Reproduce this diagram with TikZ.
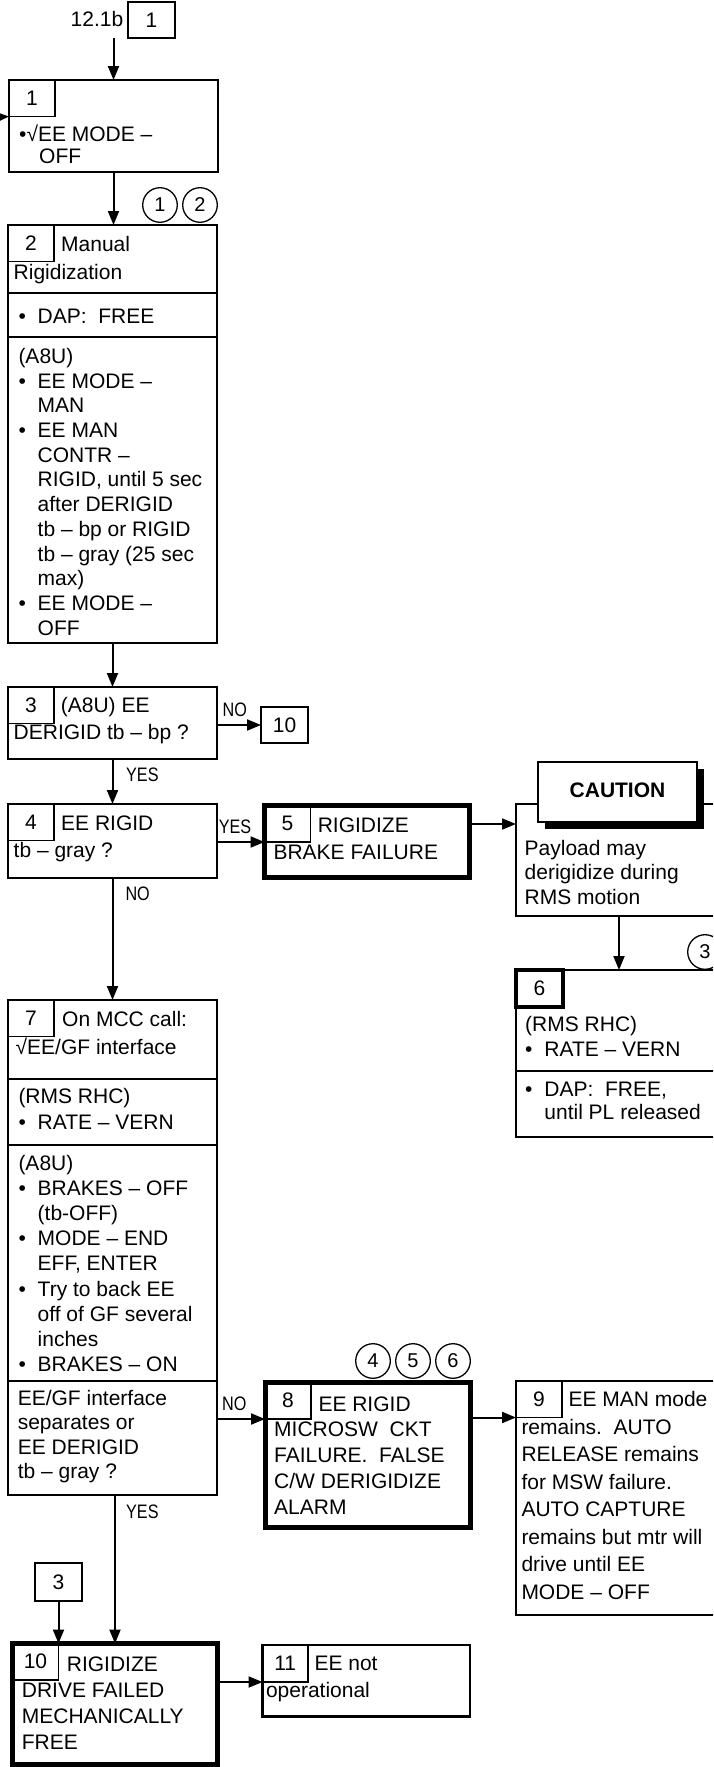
\documentclass[tikz,border=0pt]{standalone}
\usepackage{fontspec}
\setmainfont{Liberation Sans}
\newfontfamily\lblfont[FakeStretch=0.83]{Liberation Sans}
\usetikzlibrary{positioning, arrows.meta, shadows}
\newcommand{\bitem}{\makebox[19.2pt][l]{•}}
\newcommand{\bindent}{\hspace*{19.2pt}}
\newcommand{\fst}{\rule{0pt}{17pt}}
\frenchspacing

\begin{document}
\begin{tikzpicture}[x=1pt, y=-1pt,
    boxframe/.style={draw, line width=2.2pt, anchor=north west,
      inner sep=0pt, outer sep=0pt},
    heavy/.style={boxframe, line width=5pt},
    numbox/.style={draw, line width=1.3pt, anchor=north west,
      minimum width=46pt, minimum height=36.5pt, inner sep=0pt,
      outer sep=0pt, font=\fontsize{21}{24}\selectfont},
    refbox/.style={draw, line width=1.8pt, minimum width=47pt,
      minimum height=36pt, inner sep=0pt, outer sep=0pt,
      font=\fontsize{21}{24}\selectfont},
    txt/.style={anchor=north west, inner sep=0pt, align=left,
      execute at begin node=\fst, font=\fontsize{21}{#1}\selectfont},
    txt/.default=24.5,
    note/.style={circle, draw, line width=1.3pt, minimum size=34.6pt,
      inner sep=0pt, font=\fontsize{20}{20}\selectfont},
    lbl/.style={anchor=base west, inner sep=0pt,
      font=\lblfont\fontsize{19.5}{20}\selectfont},
    divider/.style={line width=2.2pt},
    arr/.style={-{Triangle[length=14pt, width=11pt]}, line width=2pt},
    cautionbox/.style={draw, line width=2.5pt, fill=white,
      minimum width=159pt, minimum height=60pt, inner sep=0pt,
      text height=15pt, text depth=5pt,
      font=\bfseries\fontsize{21}{24}\selectfont,
      drop shadow={shadow xshift=7pt, shadow yshift=-7pt, opacity=1, fill=black}},
  ]
  \useasboundingbox (0,0) rectangle (713,1767);
  \clip (0,0) rectangle (713,1767);

  % entry
  \node[anchor=base east, inner sep=0pt, font=\fontsize{21}{24}\selectfont]
    (reflbl) at (123.5,26) {12.1b};
  \node[refbox] (r1) at (151.5,20) {1};
  \coordinate (in1) at (0,117);

  % step 1
  \node[boxframe, minimum width=209pt, minimum height=92pt] (b1) at (9,80) {};
  \node[numbox] (n1) at (b1.north west) {1};
  \node[txt=22] (t1) at (19,125) {•√EE MODE –\\\hspace*{20pt}OFF};

  \node[note] (c1) at (160,205) {1};
  \node[note] (c2) at (200,205) {2};

  % step 2
  \node[boxframe, minimum width=209pt, minimum height=418pt] (b2) at (8,225) {};
  \node[numbox] (n2) at (b2.north west) {2};
  \node[txt] (t2a) at (13.5,236) {\hspace*{47.5pt}Manual\\[3.5pt]Rigidization};
  \draw[divider] (b2.west |- 0,293) -- (b2.east |- 0,293);
  \node[txt] (t2b) at (18.3,306) {\bitem DAP:\ \ FREE};
  \draw[divider] (b2.west |- 0,337) -- (b2.east |- 0,337);
  \node[txt=24.7] (t2c) at (18.3,348) {(A8U)\\
    \bitem EE MODE –\\ \bindent MAN\\
    \bitem EE MAN\\ \bindent CONTR –\\ \bindent RIGID, until 5 sec\\
    \bindent after DERIGID\\ \bindent tb – bp or RIGID\\
    \bindent tb – gray (25 sec\\ \bindent max)\\
    \bitem EE MODE –\\ \bindent OFF};

  % step 3
  \node[boxframe, minimum width=209pt, minimum height=72pt] (b3) at (8,687) {};
  \node[numbox] (n3) at (b3.north west) {3};
  \node[txt] (t3) at (13.5,697) {\hspace*{47.2pt}(A8U) EE\\[3pt]DERIGID tb – bp ?};
  \node[refbox] (r10) at (284.5,725) {10};

  % step 4
  \node[boxframe, minimum width=209pt, minimum height=74pt] (b4) at (8,804) {};
  \node[numbox] (n4) at (b4.north west) {4};
  \node[txt] (t4) at (13.5,815.7) {\hspace*{47.5pt}EE RIGID\\[2.8pt]tb – gray ?};

  % step 5
  \node[heavy, minimum width=204.5pt, minimum height=72pt] (b5) at (264.5,805.5) {};
  \node[numbox] (n5) at (b5.north west) {5};
  \node[txt] (t5) at (273.3,818) {\hspace*{44.3pt}RIGIDIZE\\[2.2pt]BRAKE FAILURE};

  % caution
  \node[boxframe, minimum width=206pt, minimum height=112pt] (cau) at (516,804) {};
  \node[cautionbox] (cl) at (617.5,792) {CAUTION};
  \node[txt=24.2] (tc) at (524.5,840.3) {Payload may\\derigidize during\\RMS motion};

  \node[note] (c3) at (705,952) {3};

  % step 6
  \node[boxframe, minimum width=206pt, minimum height=167pt] (b6) at (516,970) {};
  \node[numbox, line width=3.5pt, minimum width=47pt, minimum height=37pt]
    (n6) at (b6.north west) {6};
  \node[txt] (t6a) at (525,1015.7) {(RMS RHC)\\[1.1pt]\bitem RATE – VERN};
  \draw[divider] (b6.west |- 0,1071) -- (b6.east |- 0,1071);
  \node[txt=22.4] (t6b) at (525,1082.3) {\bitem DAP:\ \ FREE,\\ \bindent until PL released};

  % step 7
  \node[boxframe, minimum width=209pt, minimum height=495pt] (b7) at (8,1000) {};
  \node[numbox] (n7) at (b7.north west) {7};
  \node[txt] (t7a) at (15.5,1011.3) {\hspace*{46.5pt}On MCC call:\\[2.9pt]√EE/GF interface};
  \draw[divider] (b7.west |- 0,1079) -- (b7.east |- 0,1079);
  \node[txt] (t7b) at (18.3,1088) {(RMS RHC)\\[1.5pt]\bitem RATE – VERN};
  \draw[divider] (b7.west |- 0,1145) -- (b7.east |- 0,1145);
  \node[txt=25.2] (t7c) at (18.3,1154.7) {(A8U)\\
    \bitem BRAKES – OFF\\ \bindent (tb-OFF)\\
    \bitem MODE – END\\ \bindent EFF, ENTER\\
    \bitem Try to back EE\\ \bindent off of GF several\\ \bindent inches\\
    \bitem BRAKES – ON};
  \draw[divider] (b7.west |- 0,1381) -- (b7.east |- 0,1381);
  \node[txt=24.2] (t7d) at (17.6,1390.3) {EE/GF interface\\separates or\\EE DERIGID\\tb – gray ?};

  % step 8
  \node[note] (c4) at (373,1361) {4};
  \node[note] (c5) at (413,1361) {5};
  \node[note] (c6) at (453,1361) {6};
  \node[heavy, minimum width=205pt, minimum height=145pt] (b8) at (265,1382.5) {};
  \node[numbox] (n8) at (b8.north west) {8};
  \node[txt=25.8] (t8) at (274,1396.3) {\hspace*{44.3pt}EE RIGID\\MICROSW\ \ CKT\\
    FAILURE.\ \ FALSE\\C/W DERIGIDIZE\\ALARM};

  % step 9
  \node[boxframe, minimum width=206pt, minimum height=234pt] (b9) at (516,1381) {};
  \node[numbox] (n9) at (b9.north west) {9};
  \node[txt=27.5] (t9) at (521.3,1391.3) {\hspace*{47pt}EE MAN mode\\remains.\ \ AUTO\\
    RELEASE remains\\for MSW failure.\\AUTO CAPTURE\\remains but mtr will\\
    drive until EE\\MODE – OFF};

  % step 10
  \node[refbox, minimum height=38pt] (r3) at (58.5,1582) {3};
  \node[heavy, minimum width=205pt, minimum height=121pt] (b10) at (12.5,1643.5) {};
  \node[numbox] (n10) at (b10.north west) {10};
  \node[txt=26.1] (t10) at (21.7,1656.3) {\hspace*{45pt}RIGIDIZE\\DRIVE FAILED\\
    MECHANICALLY\\FREE};

  % step 11
  \node[boxframe, minimum width=207.5pt, minimum height=71.5pt] (b11) at (262.5,1645) {};
  \node[numbox, minimum width=45.5pt, minimum height=37pt] (n11) at (b11.north west) {11};
  \node[txt] (t11) at (265.8,1655.7) {\hspace*{48.5pt}EE not\\[2.8pt]operational};

  % branch labels
  \node[lbl] (lno1) at (222.5,716.7) {NO};
  \node[lbl] (lyes1) at (126,781.7) {YES};
  \node[lbl] (lyes2) at (218.7,833.3) {YES};
  \node[lbl] (lno2) at (125.3,900.7) {NO};
  \node[lbl] (lno3) at (222,1410.7) {NO};
  \node[lbl] (lyes3) at (126,1518.3) {YES};

  % connectors
  \coordinate (b5out) at ([yshift=17.5pt]b5.east);
  \draw[arr] (in1) -- (n1.south west);
  \draw[arr] (b1.north |- r1.south) -- (b1.north);
  \draw[arr] (b1.south) -- (b1.south |- b2.north);
  \draw[arr] (b2.south) -- (b3.north);
  \draw[arr] (b3.east |- r10.west) -- (r10.west);
  \draw[arr] (b3.south) -- (b4.north);
  \draw[arr] (b4.east |- n5.south west) -- (n5.south west);
  \draw[arr] (b5out) -- (b5out -| cau.west);
  \draw[arr] (cau.south) -- (cau.south |- b6.north);
  \draw[arr] (b4.south) -- (b7.north);
  \draw[arr] (b7.east |- n8.south west) -- (n8.south west);
  \draw[arr] (b8.east |- n9.south west) -- (n9.south west);
  \draw[arr] (b10.north |- b7.south) -- (b10.north);
  \draw[arr] (r3.south) -- (r3.south |- b10.north);
  \draw[arr] (b10.east |- n11.south west) -- (n11.south west);
\end{tikzpicture}
\end{document}
